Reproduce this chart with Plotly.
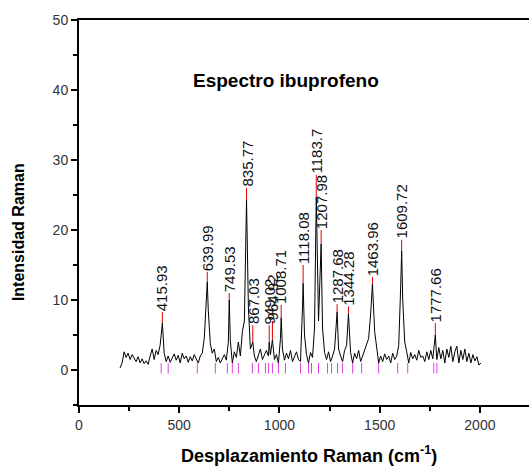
import plotly.graph_objects as go

# ---------------- data ----------------
grid_start = 205
grid_step = 10
baseline_intensity = [
    0.3, 1.0, 2.6, 1.8, 2.4, 1.5, 2.2, 1.6, 1.2, 1.9,   # 205-295
    1.0, 1.6, 0.9, 1.3, 0.8, 2.0, 3.0, 1.5, 2.8, 2.2,   # 305-395
    3.6, 3.0, 2.4, 1.2, 2.0, 1.1, 1.8, 2.3, 1.4, 2.1,   # 405-495
    1.0, 2.4, 1.6, 2.0, 1.1, 1.9, 1.3, 2.2, 1.6, 1.0,   # 505-595
    2.0, 2.4, 4.5, 9.5, 8.5, 3.8, 2.4, 3.0, 1.2, 1.8,   # 605-695
    1.0, 1.5, 2.2, 1.4, 4.0, 4.2, 1.0, 2.6, 1.8, 4.0,   # 705-795
    2.0, 5.5, 7.0, 8.0, 9.0, 3.0, 2.5, 2.0, 1.2, 2.0,   # 805-895
    3.0, 1.5, 2.2, 2.8, 2.0, 2.2, 3.0, 1.5, 2.2, 1.0,   # 905-995
    4.5, 3.0, 1.4, 2.4, 1.6, 2.8, 1.2, 2.0, 2.6, 1.5,   # 1005-1095
    1.2, 9.0, 5.0, 2.2, 1.0, 2.5, 1.8, 6.0, 20.0, 7.0,  # 1105-1195
    15.0, 6.0, 2.5, 1.5, 2.6, 1.2, 2.0, 3.0, 7.5, 3.0,  # 1205-1295
    2.0, 1.2, 2.8, 3.5, 8.0, 2.5, 1.0, 2.4, 1.6, 2.8,   # 1305-1395
    1.2, 2.0, 2.6, 3.5, 4.5, 8.0, 11.5, 5.5, 3.0, 1.0,  # 1405-1495
    2.0, 1.2, 2.3, 1.5, 2.0, 1.0, 2.4, 1.5, 2.0, 3.5,   # 1505-1595
    12.0, 10.0, 4.0, 2.6, 1.0, 2.5, 1.6, 2.2, 1.4, 2.8, # 1605-1695
    1.8, 2.0, 1.2, 2.6, 1.5, 2.8, 1.6, 3.5, 1.5, 3.2,   # 1705-1795
    1.6, 2.8, 1.0, 3.0, 1.8, 3.4, 1.2, 2.6, 3.4, 1.0,   # 1805-1895
    2.8, 1.5, 3.0, 1.2, 2.4, 1.0, 2.2, 1.3, 1.9, 0.7,   # 1905-1995
    1.0,                                                # 2005
]

peak_shift = [415.93, 639.99, 749.53, 835.77, 867.03, 949.02, 964.92, 1008.71,
              1118.08, 1183.7, 1207.98, 1287.68, 1344.28, 1463.96, 1609.72, 1777.66]
peak_height = [6.7, 12.6, 10.0, 24.3, 4.0, 4.0, 4.3, 7.5,
               12.4, 24.7, 18.0, 8.3, 8.0, 12.3, 17.0, 5.0]
label_base = [8.3, 14.0, 11.0, 26.0, 6.4, 6.4, 7.0, 9.3,
              15.0, 27.9, 20.0, 9.4, 9.1, 13.3, 18.6, 6.7]
peak_labels = ["415.93", "639.99", "749.53", "835.77", "867.03", "949.02", "964.92", "1008.71",
               "1118.08", "1183.7", "1207.98", "1287.68", "1344.28", "1463.96", "1609.72", "1777.66"]

anchor_shift = [410, 445, 590, 680, 740, 765, 795, 865, 895, 930, 945, 965, 995, 1030,
                1105, 1145, 1160, 1195, 1240, 1260, 1290, 1315, 1365, 1410, 1495,
                1590, 1640, 1770, 1785]
anchor_top = 1.0
anchor_bottom = -0.5

x_ticks = [0, 500, 1000, 1500, 2000]
y_ticks = [0, 10, 20, 30, 40, 50]

# ---------------- build spectrum ----------------
pts = []
for i, v in enumerate(baseline_intensity):
    xv = grid_start + i * grid_step
    if min(abs(xv - p) for p in peak_shift) < 3:
        continue
    pts.append((xv, v))
pts += list(zip(peak_shift, peak_height))
pts.sort()
sx = [p[0] for p in pts]
sy = [p[1] for p in pts]

FONT = "Arial, 'Liberation Sans', sans-serif"

fig = go.Figure()

# magenta baseline anchors (drawn beneath the spectrum)
mx, my = [], []
for a in anchor_shift:
    mx += [a, a, None]
    my += [anchor_top, anchor_bottom, None]
fig.add_trace(go.Scatter(x=mx, y=my, mode="lines",
                         line=dict(color="#e040e0", width=1), hoverinfo="skip"))

fig.add_trace(go.Scatter(x=sx, y=sy, mode="lines",
                         line=dict(color="black", width=1), hoverinfo="skip"))

# red leader lines
rx, ry = [], []
for p, h, b in zip(peak_shift, peak_height, label_base):
    rx += [p, p, None]
    ry += [h, b, None]
fig.add_trace(go.Scatter(x=rx, y=ry, mode="lines",
                         line=dict(color="#e00000", width=1), hoverinfo="skip"))

for p, b, t in zip(peak_shift, label_base, peak_labels):
    fig.add_annotation(x=p, y=b, text=t, textangle=-90, showarrow=False,
                       xanchor="center", yanchor="bottom", borderpad=0,
                       font=dict(family=FONT, size=15, color="#111"))

fig.add_annotation(x=1035, y=41.4, text="<b>Espectro ibuprofeno</b>", showarrow=False,
                   xanchor="center", yanchor="middle",
                   font=dict(family=FONT, size=19, color="black"))

fig.add_annotation(xref="paper", yref="paper", x=0.511, y=-0.128,
                   xanchor="center", yanchor="middle",
                   text="<b>Desplazamiento Raman (cm<sup>-1</sup>)</b>", showarrow=False,
                   font=dict(family=FONT, size=18, color="black"))
fig.add_annotation(xref="paper", yref="paper", x=-0.1356, y=0.449,
                   xanchor="center", yanchor="middle",
                   text="<b>Intensidad Raman</b>", textangle=-90, showarrow=False,
                   font=dict(family=FONT, size=16, color="black"))

fig.update_layout(
    width=529, height=468,
    margin=dict(l=79, r=0, t=20, b=63),
    paper_bgcolor="white", plot_bgcolor="white",
    showlegend=False,
    font=dict(family=FONT, size=14, color="#333"),
)
fig.update_xaxes(range=[0, 2245], tickvals=x_ticks, ticks="outside", ticklen=6, tickwidth=2,
                 showline=True, linewidth=2, linecolor="black", mirror=True,
                 showgrid=False, zeroline=False,
                 minor=dict(dtick=250, tick0=0, ticks="outside", ticklen=4, tickwidth=2, tickcolor="black"),
                 tickcolor="black", tickfont=dict(size=14, color="#333"))
fig.update_yaxes(range=[-5, 50], tickvals=y_ticks, ticks="outside", ticklen=6, tickwidth=2,
                 showline=True, linewidth=2, linecolor="black",
                 showgrid=False, zeroline=False,
                 minor=dict(dtick=5, tick0=0, ticks="outside", ticklen=4, tickwidth=2, tickcolor="black"),
                 tickcolor="black", tickfont=dict(size=14, color="#333"))

# remove the browser's default 8px page margin so the 529x468 figure fills the window
fig.write_html("out.html", config={"displayModeBar": False},
               post_script="document.body.style.margin='0';document.body.style.overflow='hidden';")
